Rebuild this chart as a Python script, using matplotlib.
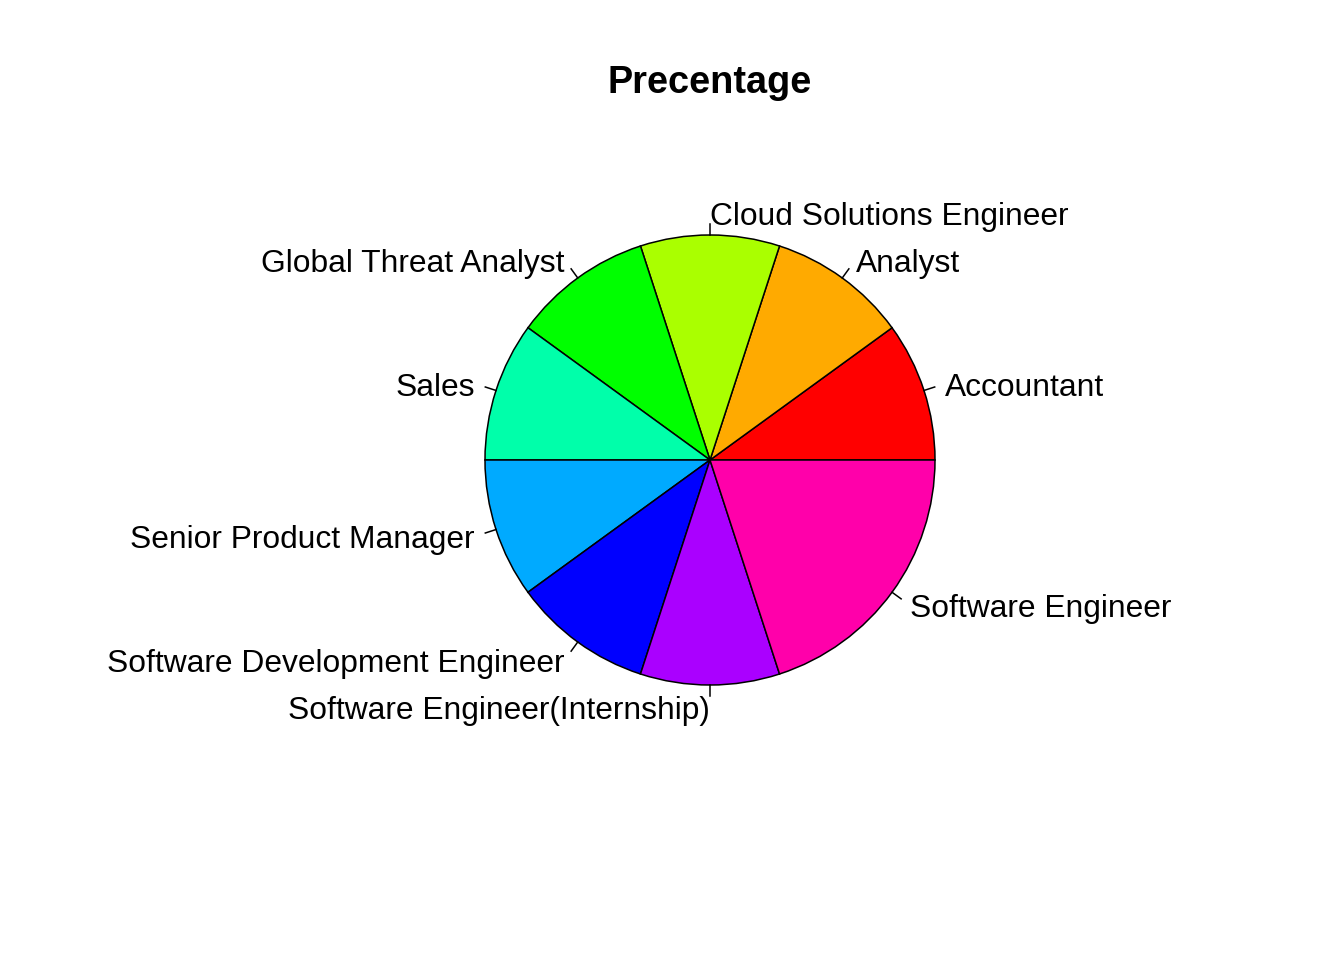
import numpy as np
import matplotlib
matplotlib.use("Agg")
import matplotlib.pyplot as plt

# Datos del gráfico
puestos = ["Accountant", "Analyst", "Cloud Solutions Engineer", "Global Threat Analyst",
           "Sales", "Senior Product Manager", "Software Development Engineer",
           "Software Engineer(Internship)", "Software Engineer"]
cantidades = [1, 1, 1, 1, 1, 1, 1, 1, 2]
colores = ["#FF0000", "#FFAA00", "#AAFF00", "#00FF00", "#00FFAA",
           "#00AAFF", "#0000FF", "#AA00FF", "#FF00AA"]

plt.rcParams["font.family"] = ["Liberation Sans", "DejaVu Sans"]

fig = plt.figure(figsize=(13.44, 9.6), dpi=100)
ax = fig.add_axes([0, 0, 1, 1])

cx, cy, r = 710, 500, 225
ax.pie(cantidades, colors=colores, startangle=0, counterclock=True,
       center=(cx, cy), radius=r, frame=True,
       wedgeprops=dict(edgecolor="black", linewidth=1.1))
ax.set_xlim(0, 1344)
ax.set_ylim(0, 960)
ax.set_aspect("equal")
ax.axis("off")

# Etiquetas estilo R: línea de 1.0 a 1.05 y texto a 1.1
total = sum(cantidades)
acum = np.cumsum([0] + cantidades)
for i, nombre in enumerate(puestos):
    ang = 2 * np.pi * (acum[i] + acum[i + 1]) / 2 / total
    px, py = np.cos(ang), np.sin(ang)
    ax.plot([cx + r * px, cx + 1.05 * r * px], [cy + r * py, cy + 1.05 * r * py],
            color="black", linewidth=1.1)
    ha = "right" if px < 0 else "left"
    ax.text(cx + 1.1 * r * px, cy + 1.1 * r * py - 4, nombre, ha=ha, va="center",
            fontsize=22.9)

fig.text(710 / 1344, 1 - 83 / 960, "Precentage", ha="center", va="center",
         fontsize=27.3, fontweight="bold")

fig.savefig("out.png", dpi=100)
